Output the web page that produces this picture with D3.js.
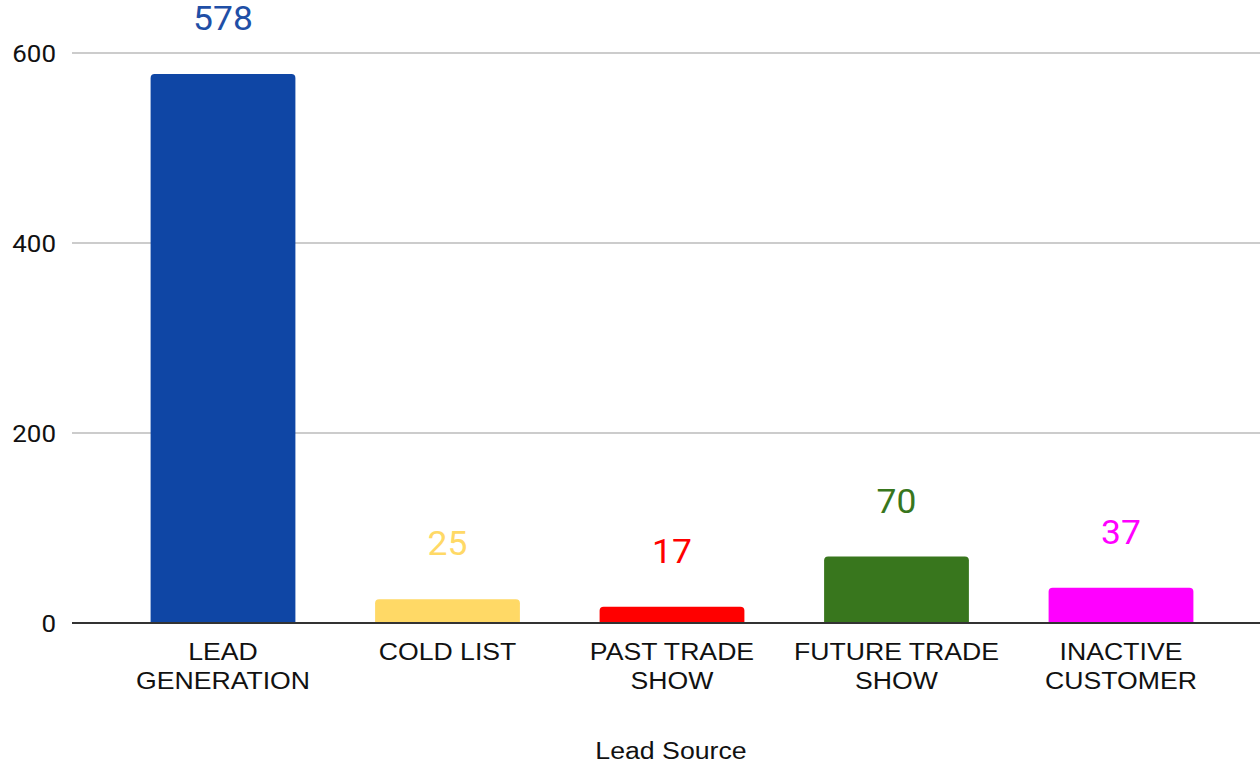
<!DOCTYPE html>
<html>
<head>
<meta charset="utf-8">
<script src="https://cdn.jsdelivr.net/npm/d3@7"></script>
<style>
  html, body { margin: 0; padding: 0; background: #ffffff; }
  svg { display: block; }
</style>
</head>
<body>
<svg id="chart" width="1260" height="764"></svg>
<script>
// Lead counts by source
const categories = ["LEAD GENERATION", "COLD LIST", "PAST TRADE SHOW", "FUTURE TRADE SHOW", "INACTIVE CUSTOMER"];
const categoryLines = [["LEAD", "GENERATION"], ["COLD LIST"], ["PAST TRADE", "SHOW"], ["FUTURE TRADE", "SHOW"], ["INACTIVE", "CUSTOMER"]];
const values = [578, 25, 17, 70, 37];
const barColors = ["#0f46a5", "#ffd966", "#ff0000", "#38761d", "#ff00ff"];
const labelColors = ["#1f4fa6", "#ffd966", "#ff0000", "#38761d", "#ff00ff"];
const yTicks = [0, 200, 400, 600];
const xTitle = "Lead Source";

const svg = d3.select("#chart");

const plot = { left: 72, right: 1260, top: 53, bottom: 623 };

const y = d3.scaleLinear().domain([0, 600]).range([plot.bottom, plot.top]);

const x = d3.scaleBand()
  .domain(categories)
  .range([110.75, 1233.25])
  .paddingInner(0.355)
  .paddingOuter(0.1775);

// Text glyphs are drawn slightly wide
function wideText(sel, px, py, sx) {
  return sel.attr("transform", `translate(${px},${py}) scale(${sx},1)`);
}

// Horizontal gridlines
svg.append("g")
  .selectAll("line")
  .data(yTicks.filter(d => d !== 0))
  .join("line")
  .attr("x1", plot.left)
  .attr("x2", plot.right)
  .attr("y1", d => y(d))
  .attr("y2", d => y(d))
  .attr("stroke", "#cccccc")
  .attr("stroke-width", 2);

// Y tick labels
svg.append("g")
  .selectAll("text")
  .data(yTicks)
  .join("text")
  .attr("transform", d => `translate(56,${y(d)}) scale(1.08,1)`)
  .attr("dy", "0.36em")
  .attr("text-anchor", "end")
  .attr("font-family", "Roboto, sans-serif")
  .attr("font-size", 24)
  .attr("fill", "#111111")
  .text(d => d);

// Bars with slightly rounded top corners
const r = 4;
function barPath(d, i) {
  const x0 = x(categories[i]);
  const w = x.bandwidth();
  const y0 = y(d);
  const yb = y(0);
  const rr = Math.min(r, (yb - y0));
  return `M${x0},${yb} L${x0},${y0 + rr} Q${x0},${y0} ${x0 + rr},${y0} L${x0 + w - rr},${y0} Q${x0 + w},${y0} ${x0 + w},${y0 + rr} L${x0 + w},${yb} Z`;
}

svg.append("g")
  .selectAll("path")
  .data(values)
  .join("path")
  .attr("d", (d, i) => barPath(d, i))
  .attr("fill", (d, i) => barColors[i]);

// Baseline axis
svg.append("line")
  .attr("x1", plot.left)
  .attr("x2", plot.right)
  .attr("y1", y(0))
  .attr("y2", y(0))
  .attr("stroke", "#333333")
  .attr("stroke-width", 2);

// Value labels above bars
svg.append("g")
  .selectAll("text")
  .data(values)
  .join("text")
  .attr("transform", (d, i) => `translate(${x(categories[i]) + x.bandwidth() / 2},${y(d) - 44}) scale(1.075,1)`)
  .attr("text-anchor", "middle")
  .attr("font-family", "Roboto, sans-serif")
  .attr("font-size", 33)
  .attr("fill", (d, i) => labelColors[i])
  .text(d => d);

// Category labels (wrapped)
const catG = svg.append("g");
categories.forEach((c, i) => {
  const t = catG.append("text")
    .attr("text-anchor", "middle")
    .attr("font-family", "'Liberation Sans', Arial, sans-serif")
    .attr("font-size", 24)
    .attr("fill", "#111111");
  wideText(t, x(c) + x.bandwidth() / 2, 659.5, 1.11);
  categoryLines[i].forEach((line, j) => {
    t.append("tspan")
      .attr("x", 0)
      .attr("dy", j === 0 ? 0 : 30)
      .text(line);
  });
});

// Axis title
const title = svg.append("text")
  .attr("text-anchor", "middle")
  .attr("font-family", "'Liberation Sans', Arial, sans-serif")
  .attr("font-size", 24.5)
  .attr("fill", "#111111")
  .text(xTitle);
wideText(title, 671, 759, 1.09);
</script>
</body>
</html>
